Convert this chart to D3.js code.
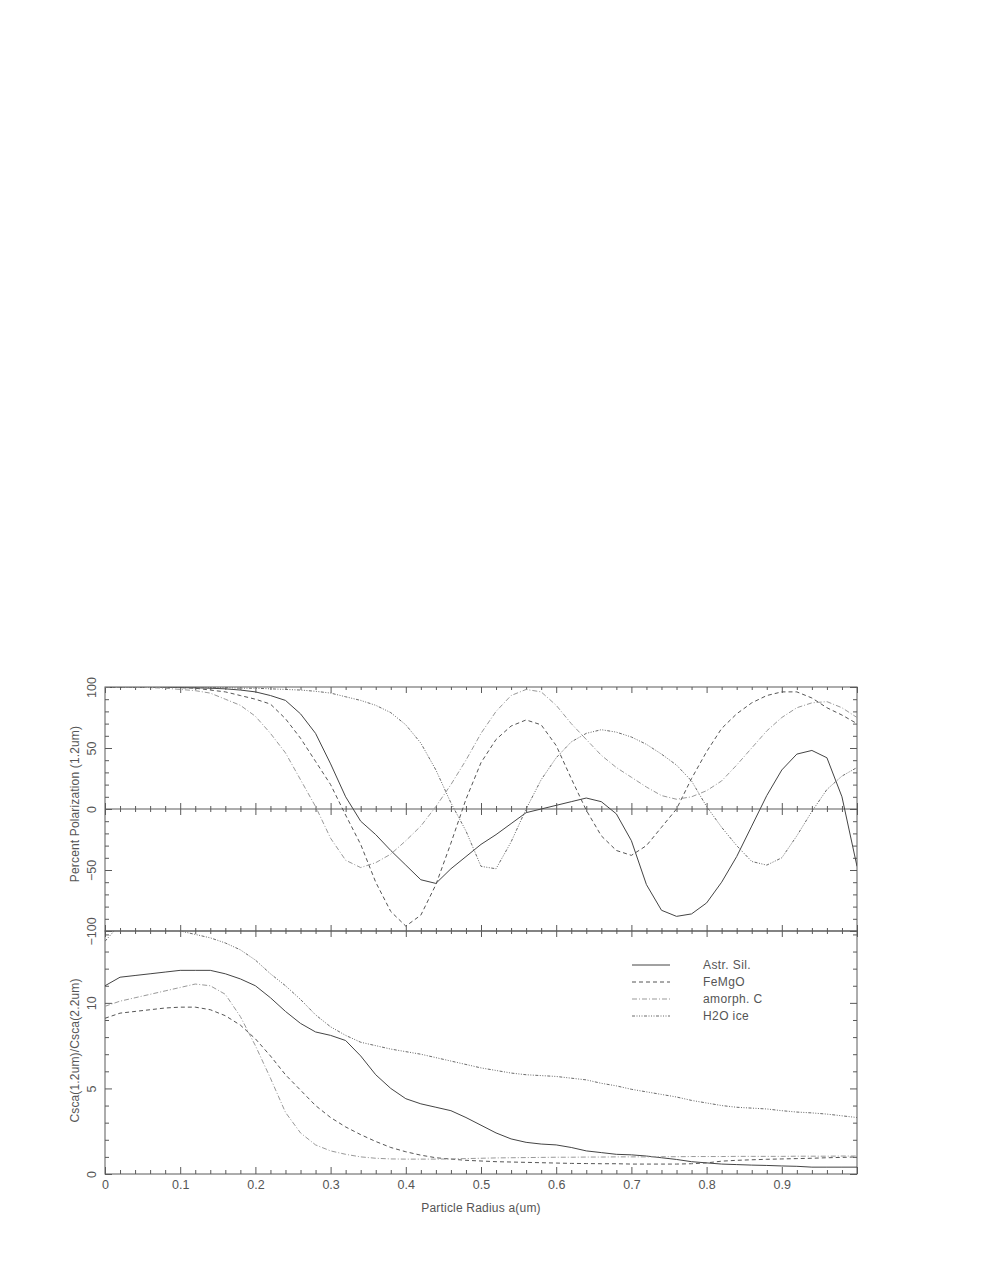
<!DOCTYPE html>
<html><head><meta charset="utf-8">
<script src="https://cdn.jsdelivr.net/npm/d3@7"></script>
<style>
body{margin:0;background:#fff}
svg{display:block}
text{font-family:"Liberation Sans",Arial,sans-serif;fill:#555;font-size:12px}
</style></head><body>
<svg id="c" width="981" height="1268"></svg>
<script>
// ---- data ----
const radius = [0,0.02,0.04,0.06,0.08,0.10,0.12,0.14,0.16,0.18,0.20,0.22,0.24,0.26,0.28,0.30,0.32,0.34,0.36,0.38,0.40,0.42,0.44,0.46,0.48,0.50,0.52,0.54,0.56,0.58,0.60,0.62,0.64,0.66,0.68,0.70,0.72,0.74,0.76,0.78,0.80,0.82,0.84,0.86,0.88,0.90,0.92,0.94,0.96,0.98,1.00];
const seriesNames = ["Astr. Sil.","FeMgO","amorph. C","H2O ice"];

// Percent polarization at 1.2um
const polAstrSil = [100,100,100,100,100,99.5,99.3,99,98.5,97.5,96,93,89,78,62,37,10,-10,-21,-34,-46,-58,-61,-49,-39,-29,-21,-12,-3,0,3,6,9,6,-4,-26,-62,-83,-88,-86,-77,-60,-39,-14,11,32,45,48,42,10,-47];
const polFeMgO = [100,100,100,100,100,99.5,99,97.5,96,93,90,86,74,58,39,20,-5,-29,-60,-84,-96,-87,-62,-28,8,38,57,68,73,69,52,25,-1,-22,-34,-38,-30,-15,0,25,47,66,78,87,93,96,96,91,83,77,70];
const polAmorphC = [100,100,100,99.5,99,98,97,95,90,85,76,62,46,24,2,-24,-42,-48,-44,-37,-26,-14,2,20,40,62,80,93,98,96,85,70,57,44,34,26,18,11,8,10,15,23,36,50,64,75,83,87,88,83,75];
const polH2Oice = [100,100,100,100,100,100,100,99.5,99.5,99,99,98.5,98,97.5,96.5,95,92,89,85,79,69,54,32,5,-18,-47,-49,-27,0,24,42,55,62,65,63,59,53,45,36,23,2,-15,-30,-43,-46,-40,-22,-2,16,27,34];

// Csca(1.2um)/Csca(2.2um)
const ratioAstrSil = [11.0,11.5,11.6,11.7,11.8,11.9,11.9,11.9,11.7,11.4,11.0,10.3,9.5,8.8,8.3,8.1,7.8,6.9,5.8,5.0,4.4,4.1,3.9,3.7,3.3,2.85,2.4,2.05,1.85,1.75,1.7,1.55,1.35,1.25,1.15,1.12,1.05,0.95,0.85,0.72,0.65,0.58,0.55,0.52,0.5,0.47,0.45,0.4,0.4,0.4,0.4];
const ratioFeMgO = [9.1,9.4,9.5,9.6,9.7,9.75,9.75,9.6,9.25,8.7,7.9,6.9,5.8,4.9,4.0,3.3,2.75,2.3,1.9,1.55,1.3,1.1,0.95,0.87,0.8,0.76,0.72,0.7,0.68,0.66,0.64,0.62,0.61,0.6,0.6,0.58,0.58,0.58,0.58,0.6,0.65,0.75,0.8,0.83,0.86,0.88,0.9,0.92,0.95,0.97,1.0];
const ratioAmorphC = [9.8,10.1,10.3,10.5,10.7,10.9,11.1,11.0,10.5,9.2,7.5,5.6,3.6,2.4,1.7,1.35,1.15,1.0,0.92,0.88,0.87,0.87,0.87,0.88,0.9,0.92,0.94,0.95,0.96,0.97,0.98,0.98,0.99,0.99,1.0,1.0,1.0,1.01,1.01,1.02,1.02,1.02,1.03,1.03,1.03,1.03,1.04,1.04,1.04,1.05,1.05];
const ratioH2Oice = [13.6,14.6,14.9,14.9,14.6,14.2,14.0,13.8,13.5,13.1,12.5,11.7,11.0,10.2,9.3,8.6,8.1,7.7,7.5,7.3,7.15,7.0,6.8,6.6,6.4,6.2,6.05,5.9,5.8,5.75,5.7,5.6,5.5,5.3,5.15,4.95,4.8,4.65,4.5,4.3,4.15,4.0,3.9,3.85,3.8,3.7,3.62,3.57,3.5,3.4,3.3];

// tick labels
const xTickValues = [0,0.1,0.2,0.3,0.4,0.5,0.6,0.7,0.8,0.9];
const xTickLabels = ["0","0.1","0.2","0.3","0.4","0.5","0.6","0.7","0.8","0.9"];
const polTickValues = [-100,-50,0,50,100];
const polTickLabels = ["\u2212100","\u221250","0","50","100"];
const ratioTickValues = [0,5,10];
const ratioTickLabels = ["0","5","10"];

const xTitle = "Particle Radius a(um)";
const polTitle = "Percent Polarization (1.2um)";
const ratioTitle = "Csca(1.2um)/Csca(2.2um)";

// ---- drawing ----
const svg = d3.select("#c");
const L = 105, R = 857, T = 687, M = 931, B = 1174;
const x = d3.scaleLinear().domain([0, 1]).range([L, R]);
const yP = d3.scaleLinear().domain([-100, 100]).range([M, T]);
const yC = d3.scaleLinear().domain([0, 14.2]).range([B, M]);

const defs = svg.append("defs");
defs.append("clipPath").attr("id", "clipP").append("rect")
  .attr("x", L).attr("y", T).attr("width", R - L).attr("height", M - T);
defs.append("clipPath").attr("id", "clipC").append("rect")
  .attr("x", L).attr("y", M).attr("width", R - L).attr("height", B - M);

const styles = [
  {stroke: "#444", dash: null},
  {stroke: "#555", dash: "4,3"},
  {stroke: "#999", dash: "5,2,1,2"},
  {stroke: "#6a6a6a", dash: "3,1.5,1,1.5,1,1.5,1,1.5"}
];
const frameColor = "#5a5a5a";

function axis(gen, tx, ty) {
  const g = svg.append("g").attr("transform", `translate(${tx},${ty})`).call(gen);
  g.select(".domain").remove();
  g.selectAll(".tick line").attr("stroke", frameColor);
  g.selectAll(".tick text").attr("fill", null);
  g.attr("font-family", null).attr("font-size", null);
  return g;
}

const minorX = d3.range(0, 51).map(i => i / 50).filter((v, i) => i % 5 !== 0);
const majorX = xTickValues.concat([1]);
const minorP = d3.range(-100, 101, 10).filter(v => v % 50 !== 0);
const majorP = polTickValues;
const minorC = d3.range(0, 15, 1).filter(v => v % 5 !== 0);
const majorC = ratioTickValues;

// frames
svg.append("rect").attr("x", L).attr("y", T).attr("width", R - L).attr("height", M - T)
  .attr("fill", "none").attr("stroke", frameColor);
svg.append("rect").attr("x", L).attr("y", M).attr("width", R - L).attr("height", B - M)
  .attr("fill", "none").attr("stroke", frameColor);
// zero line in polarization panel
svg.append("line").attr("x1", L).attr("x2", R).attr("y1", yP(0)).attr("y2", yP(0))
  .attr("stroke", frameColor);

// x ticks on every horizontal line
function xTicksAt(y, up, down) {
  if (up) {
    axis(d3.axisBottom(x).tickValues(minorX).tickSize(-3).tickFormat(""), 0, y);
    axis(d3.axisBottom(x).tickValues(majorX).tickSize(-6).tickFormat(""), 0, y);
  }
  if (down) {
    axis(d3.axisTop(x).tickValues(minorX).tickSize(-3).tickFormat(""), 0, y);
    axis(d3.axisTop(x).tickValues(majorX).tickSize(-6).tickFormat(""), 0, y);
  }
}
xTicksAt(T, false, true);
xTicksAt(yP(0), true, true);
xTicksAt(M, true, true);
// bottom axis with labels
axis(d3.axisBottom(x).tickValues(minorX).tickSize(-4).tickFormat(""), 0, B);
axis(d3.axisBottom(x).tickValues(majorX).tickSize(-7)
  .tickFormat(d => { const i = xTickValues.indexOf(d); return i >= 0 ? xTickLabels[i] : ""; })
  .tickPadding(6), 0, B)
  .selectAll(".tick text").style("font-size", "12.5px");

// y ticks
function yTicks(scale, minor, major, values, labels) {
  axis(d3.axisLeft(scale).tickValues(minor).tickSize(-4).tickFormat(""), L, 0);
  const g = axis(d3.axisLeft(scale).tickValues(major).tickSize(-7)
    .tickFormat(d => labels[values.indexOf(d)]), L, 0);
  g.selectAll(".tick text").attr("x", 0).attr("dy", null).attr("text-anchor", "middle")
    .style("font-size", "12.5px")
    .attr("transform", "translate(-9.5,0) rotate(-90)");
  axis(d3.axisRight(scale).tickValues(minor).tickSize(-4).tickFormat(""), R, 0);
  axis(d3.axisRight(scale).tickValues(major).tickSize(-7).tickFormat(""), R, 0);
}
yTicks(yP, minorP, majorP, polTickValues, polTickLabels);
yTicks(yC, minorC, majorC, ratioTickValues, ratioTickLabels);

// axis titles
svg.append("text").attr("transform", `translate(79,${(T + M) / 2 - 5}) rotate(-90)`)
  .attr("text-anchor", "middle").style("letter-spacing", "0.15px").text(polTitle);
svg.append("text").attr("transform", `translate(79,${(M + B) / 2 - 2}) rotate(-90)`)
  .attr("text-anchor", "middle").style("letter-spacing", "0.15px").text(ratioTitle);
svg.append("text").attr("x", (L + R) / 2).attr("y", B + 38)
  .attr("text-anchor", "middle").style("letter-spacing", "0.2px").text(xTitle);

// curves
const polSeries = [polAstrSil, polFeMgO, polAmorphC, polH2Oice];
const ratioSeries = [ratioAstrSil, ratioFeMgO, ratioAmorphC, ratioH2Oice];

function drawSeries(series, yScale, clipId) {
  const line = d3.line().x((d, i) => x(radius[i])).y(d => yScale(d)).curve(d3.curveLinear);
  const g = svg.append("g").attr("clip-path", `url(#${clipId})`);
  series.forEach((s, k) => {
    g.append("path").datum(s).attr("d", line).attr("fill", "none")
      .attr("stroke", styles[k].stroke).attr("stroke-width", 1)
      .attr("stroke-dasharray", styles[k].dash);
  });
}
drawSeries(polSeries, yP, "clipP");
drawSeries(ratioSeries, yC, "clipC");

// legend
const legendRows = [965, 982, 999, 1016];
const lg = svg.append("g");
seriesNames.forEach((name, k) => {
  lg.append("line").attr("x1", 632).attr("x2", 670)
    .attr("y1", legendRows[k]).attr("y2", legendRows[k])
    .attr("stroke", styles[k].stroke).attr("stroke-dasharray", styles[k].dash);
  lg.append("text").attr("x", 703).attr("y", legendRows[k] + 4)
    .style("letter-spacing", "0.4px").text(name);
});
</script>
</body></html>
